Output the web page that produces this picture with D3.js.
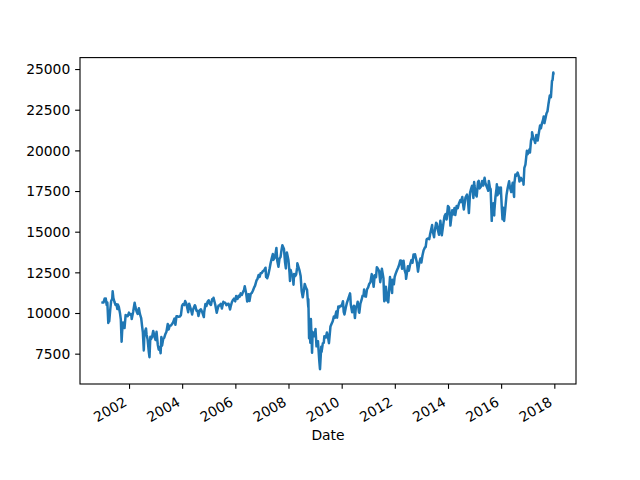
<!DOCTYPE html>
<html>
<head>
<meta charset="utf-8">
<script src="https://cdn.jsdelivr.net/npm/d3@7"></script>
<style>
  html, body { margin: 0; padding: 0; background: #fff; }
  svg { display: block; }
  text { font-family: "DejaVu Sans", sans-serif; fill: #000; }
</style>
</head>
<body>
<script>
// ---- data: Dow Jones Industrial Average closes ----
const dates = [
"2001-01-02","2001-01-16","2001-01-31","2001-02-09","2001-02-15","2001-02-28","2001-03-09","2001-03-22","2001-03-30","2001-04-04","2001-04-18","2001-04-30","2001-05-15","2001-05-21","2001-05-31","2001-06-14","2001-06-29","2001-07-13","2001-07-24","2001-07-31","2001-08-14","2001-08-31","2001-09-10","2001-09-21","2001-09-28","2001-10-11","2001-10-31","2001-11-15","2001-11-30","2001-12-14","2001-12-31",
"2002-01-15","2002-01-31","2002-02-07","2002-02-28","2002-03-19","2002-03-28","2002-04-15","2002-04-30","2002-05-16","2002-05-31","2002-06-17","2002-06-28","2002-07-10","2002-07-23","2002-07-31","2002-08-22","2002-08-30","2002-09-13","2002-09-30","2002-10-09","2002-10-21","2002-10-31","2002-11-14","2002-11-29","2002-12-02","2002-12-17","2002-12-31",
"2003-01-14","2003-01-31","2003-02-13","2003-02-28","2003-03-11","2003-03-21","2003-03-31","2003-04-15","2003-04-30","2003-05-16","2003-05-30","2003-06-17","2003-06-30","2003-07-14","2003-07-31","2003-08-15","2003-08-29","2003-09-18","2003-09-30","2003-10-15","2003-10-31","2003-11-14","2003-11-28","2003-12-15","2003-12-31",
"2004-01-15","2004-01-30","2004-02-11","2004-02-27","2004-03-24","2004-03-31","2004-04-06","2004-04-30","2004-05-17","2004-05-28","2004-06-23","2004-06-30","2004-07-16","2004-07-30","2004-08-12","2004-08-31","2004-09-15","2004-09-30","2004-10-25","2004-10-29","2004-11-15","2004-11-30","2004-12-15","2004-12-31",
"2005-01-14","2005-01-31","2005-02-15","2005-02-28","2005-03-07","2005-03-31","2005-04-20","2005-04-29","2005-05-16","2005-05-31","2005-06-15","2005-06-30","2005-07-20","2005-07-29","2005-08-15","2005-08-31","2005-09-15","2005-09-30","2005-10-20","2005-10-31","2005-11-15","2005-11-30","2005-12-13","2005-12-30",
"2006-01-12","2006-01-31","2006-02-15","2006-02-28","2006-03-15","2006-03-31","2006-04-21","2006-04-28","2006-05-10","2006-05-31","2006-06-13","2006-06-30","2006-07-14","2006-07-31","2006-08-15","2006-08-31","2006-09-15","2006-09-29","2006-10-19","2006-10-31","2006-11-17","2006-11-30","2006-12-15","2006-12-29",
"2007-01-16","2007-01-31","2007-02-20","2007-02-27","2007-02-28","2007-03-14","2007-03-30","2007-04-16","2007-04-30","2007-05-15","2007-05-31","2007-06-07","2007-06-29","2007-07-19","2007-07-31","2007-08-16","2007-08-31","2007-09-14","2007-09-28","2007-10-09","2007-10-31","2007-11-15","2007-11-26","2007-11-30","2007-12-10","2007-12-31",
"2008-01-15","2008-01-22","2008-01-31","2008-02-14","2008-02-29","2008-03-10","2008-03-18","2008-03-31","2008-04-15","2008-04-30","2008-05-02","2008-05-30","2008-06-16","2008-06-30","2008-07-15","2008-07-31","2008-08-11","2008-08-29","2008-09-12","2008-09-29","2008-09-30","2008-10-10","2008-10-13","2008-10-27","2008-10-31","2008-11-04","2008-11-20","2008-11-28","2008-12-15","2008-12-31",
"2009-01-06","2009-01-20","2009-01-30","2009-02-09","2009-02-27","2009-03-09","2009-03-26","2009-03-31","2009-04-17","2009-04-30","2009-05-08","2009-05-29","2009-06-12","2009-06-30","2009-07-10","2009-07-31","2009-08-14","2009-08-31","2009-09-16","2009-09-30","2009-10-19","2009-10-30","2009-11-16","2009-11-30","2009-12-15","2009-12-31",
"2010-01-19","2010-01-29","2010-02-08","2010-02-26","2010-03-15","2010-03-31","2010-04-26","2010-04-30","2010-05-06","2010-05-25","2010-05-28","2010-06-18","2010-06-30","2010-07-02","2010-07-15","2010-07-30","2010-08-09","2010-08-26","2010-08-31","2010-09-15","2010-09-30","2010-10-15","2010-10-29","2010-11-05","2010-11-16","2010-11-30","2010-12-15","2010-12-31",
"2011-01-14","2011-01-31","2011-02-18","2011-02-28","2011-03-16","2011-03-31","2011-04-18","2011-04-29","2011-05-02","2011-05-31","2011-06-15","2011-06-30","2011-07-07","2011-07-29","2011-08-08","2011-08-10","2011-08-19","2011-08-31","2011-09-22","2011-09-30","2011-10-03","2011-10-27","2011-10-31","2011-11-25","2011-11-30","2011-12-19","2011-12-30",
"2012-01-13","2012-01-31","2012-02-15","2012-02-29","2012-03-16","2012-03-30","2012-04-10","2012-04-30","2012-05-15","2012-05-31","2012-06-04","2012-06-29","2012-07-12","2012-07-31","2012-08-16","2012-08-31","2012-09-14","2012-09-28","2012-10-05","2012-10-31","2012-11-15","2012-11-30","2012-12-18","2012-12-31",
"2013-01-15","2013-01-31","2013-02-19","2013-02-28","2013-03-14","2013-03-28","2013-04-18","2013-04-30","2013-05-28","2013-05-31","2013-06-24","2013-06-28","2013-07-22","2013-07-31","2013-08-15","2013-08-30","2013-09-18","2013-09-30","2013-10-08","2013-10-31","2013-11-15","2013-11-29","2013-12-13","2013-12-31",
"2014-01-15","2014-01-31","2014-02-03","2014-02-28","2014-03-14","2014-03-31","2014-04-11","2014-04-30","2014-05-15","2014-05-30","2014-06-20","2014-06-30","2014-07-16","2014-07-31","2014-08-07","2014-08-29","2014-09-19","2014-09-30","2014-10-15","2014-10-31","2014-11-14","2014-11-28","2014-12-16","2014-12-26","2014-12-31",
"2015-01-15","2015-01-30","2015-02-17","2015-02-27","2015-03-10","2015-03-31","2015-04-15","2015-04-30","2015-05-19","2015-05-29","2015-06-15","2015-06-30","2015-07-08","2015-07-16","2015-07-31","2015-08-10","2015-08-25","2015-08-31","2015-09-16","2015-09-28","2015-09-30","2015-10-15","2015-10-30","2015-11-03","2015-11-13","2015-11-30","2015-12-14","2015-12-29","2015-12-31",
"2016-01-11","2016-01-20","2016-01-29","2016-02-11","2016-02-29","2016-03-15","2016-03-31","2016-04-20","2016-04-29","2016-05-19","2016-05-31","2016-06-08","2016-06-27","2016-06-30","2016-07-15","2016-07-29","2016-08-15","2016-08-31","2016-09-09","2016-09-30","2016-10-14","2016-10-31","2016-11-04","2016-11-15","2016-11-30","2016-12-20","2016-12-30",
"2017-01-13","2017-01-25","2017-01-31","2017-02-15","2017-02-28","2017-03-01","2017-03-22","2017-03-31","2017-04-13","2017-04-28","2017-05-17","2017-05-31","2017-06-19","2017-06-30","2017-07-14","2017-07-31","2017-08-08","2017-08-18","2017-08-31","2017-09-15","2017-09-29","2017-10-13","2017-10-31","2017-11-15","2017-11-30","2017-12-08","2017-12-18","2017-12-20"
];
const closes = [
10646,10652,10887,10781,10891,10495,10644,9389,9879,9485,10216,10735,10873,11337,10912,10690,10502,10540,10240,10523,10370,9950,9606,8236,8848,9410,9075,9872,9852,9811,10022,
9891,9920,9625,10106,10635,10404,10093,9946,10289,9925,9688,9243,8813,7702,8737,9053,8664,8380,7592,7286,8538,8397,8542,8896,8862,8536,8342,
8842,8054,7749,7891,7524,8522,7992,8403,8480,8713,8850,9323,8985,9217,9234,9321,9416,9659,9275,9803,9801,9768,9782,9866,10454,
10553,10488,10737,10584,10048,10358,10570,10226,9906,10188,10479,10435,10140,10140,9815,10174,10231,10080,9750,10027,10550,10428,10691,10783,
10558,10490,10838,10766,10941,10504,10012,10193,10464,10467,10566,10275,10689,10641,10634,10482,10558,10569,10215,10440,10675,10806,10883,10718,
11043,10865,11058,10993,11209,11109,11347,11367,11642,11168,10706,11150,10739,11186,11230,11381,11560,11679,12011,12081,12342,12222,12446,12463,
12582,12622,12786,12216,12268,12133,12354,12720,13063,13346,13628,13267,13409,14000,13212,12845,13358,13442,13896,14165,13930,13110,12743,13372,13727,13265,
12501,11971,12650,12376,12266,11740,12392,12263,12362,12820,13058,12638,12269,11350,10963,11378,11782,11544,11422,10365,10851,8451,9387,8176,9325,9625,7552,8829,8565,8776,
9015,7949,8001,8270,7063,6547,7925,7609,8131,8168,8575,8500,8799,8447,8146,9172,9321,9496,9791,9712,10092,9713,10406,10345,10452,10428,
10725,10067,9908,10325,10642,10857,11205,11009,10520,10043,10137,10450,9774,9686,10359,10466,10698,10060,10015,10572,10788,11063,11118,11444,11023,11006,11457,11578,
11787,11892,12391,12226,11613,12320,12201,12811,12807,12570,11897,12414,12719,12143,10810,10720,10817,11614,10733,10913,10655,12209,11955,11231,12046,11766,12218,
12422,12633,12781,12952,13233,13212,12716,13214,12632,12393,12101,12880,12605,13009,13250,13091,13593,13437,13610,13096,12542,13026,13350,13104,
13535,13861,14036,14054,14539,14579,14537,14840,15409,15116,14660,14910,15545,15500,15112,14810,15677,15130,14776,15546,15962,16086,15755,16577,
16482,15699,15373,16322,16065,16458,16027,16581,16447,16717,16948,16827,17138,16563,16368,17098,17280,17043,16142,17391,17634,17828,17069,18053,17823,
17320,17165,18047,18133,17662,17776,18112,17841,18312,18011,17791,17620,17515,18120,17690,17615,15666,16528,16740,16001,16285,17142,17664,17918,17245,17720,17369,17720,17425,
16399,15766,16466,15660,16517,17251,17685,18096,17773,17436,17787,18005,17140,17930,18516,18432,18636,18401,18085,18308,18138,18142,17888,18923,19124,19975,19763,
19886,20069,19864,20612,20812,21116,20662,20663,20453,20941,20607,21009,21529,21350,21638,21891,22085,21675,21948,22268,22405,22871,23377,23272,24272,24329,24792,24727
];
const xTickYears = [2002, 2004, 2006, 2008, 2010, 2012, 2014, 2016, 2018];
const yTickValues = [7500, 10000, 12500, 15000, 17500, 20000, 22500, 25000];
const xLabel = "Date";

(function () {
// ---- layout ----
const W = 640, H = 480;
const mLeft = 80, mRight = 576, mTop = 57.6, mBottom = 384;
const fontPx = 13.89, tickLen = 4.86, tickPad = 4.86, lw = 1.1;

const parse = d3.timeParse("%Y-%m-%d");
const data = dates.map((d, i) => ({ date: parse(d), value: closes[i] }));

const xExt = d3.extent(data, d => d.date);
const xPad = (xExt[1] - xExt[0]) * 0.05;
const x = d3.scaleTime()
  .domain([new Date(+xExt[0] - xPad), new Date(+xExt[1] + xPad)])
  .range([mLeft, mRight]);

const yExt = d3.extent(data, d => d.value);
const yPad = (yExt[1] - yExt[0]) * 0.05;
const y = d3.scaleLinear()
  .domain([yExt[0] - yPad, yExt[1] + yPad])
  .range([mBottom, mTop]);

const svg = d3.select("body").append("svg")
  .attr("width", W).attr("height", H);
svg.append("rect").attr("width", W).attr("height", H).attr("fill", "#fff");

svg.append("clipPath").attr("id", "clip").append("rect")
  .attr("x", mLeft).attr("y", mTop).attr("width", mRight - mLeft).attr("height", mBottom - mTop);

const line = d3.line().x(d => x(d.date)).y(d => y(d.value));
svg.append("path")
  .datum(data)
  .attr("clip-path", "url(#clip)")
  .attr("fill", "none")
  .attr("stroke", "#1f77b4")
  .attr("stroke-width", 2.5)
  .attr("stroke-linejoin", "round")
  .attr("stroke-linecap", "square")
  .attr("d", line);

// x axis
const xTicks = xTickYears.map(yr => new Date(yr, 0, 1));
const xAxis = d3.axisBottom(x)
  .tickValues(xTicks)
  .tickFormat(d3.timeFormat("%Y"))
  .tickSize(tickLen)
  .tickPadding(tickPad);
const gx = svg.append("g").attr("transform", `translate(0,${mBottom})`).call(xAxis);
gx.select(".domain").remove();
gx.selectAll(".tick line").attr("stroke", "#000").attr("stroke-width", lw);
gx.selectAll(".tick text")
  .attr("font-size", fontPx)
  .attr("font-family", "DejaVu Sans")
  .attr("text-anchor", "end")
  .attr("dy", null)
  .attr("y", null)
  .attr("transform", "translate(-1.6,20.8) rotate(-30)");

// y axis
const yAxis = d3.axisLeft(y)
  .tickValues(yTickValues)
  .tickFormat(d3.format("d"))
  .tickSize(tickLen)
  .tickPadding(tickPad);
const gy = svg.append("g").attr("transform", `translate(${mLeft},0)`).call(yAxis);
gy.select(".domain").remove();
gy.selectAll(".tick line").attr("stroke", "#000").attr("stroke-width", lw);
gy.selectAll(".tick text")
  .attr("font-size", fontPx)
  .attr("font-family", "DejaVu Sans")
  .attr("dy", "0.35em");

// spines
svg.append("rect")
  .attr("x", mLeft).attr("y", mTop)
  .attr("width", mRight - mLeft).attr("height", mBottom - mTop)
  .attr("fill", "none").attr("stroke", "#000").attr("stroke-width", lw);

// x label
svg.append("text")
  .attr("x", (mLeft + mRight) / 2)
  .attr("y", 440)
  .attr("text-anchor", "middle")
  .attr("font-size", fontPx)
  .text(xLabel);
})();
</script>
</body>
</html>
